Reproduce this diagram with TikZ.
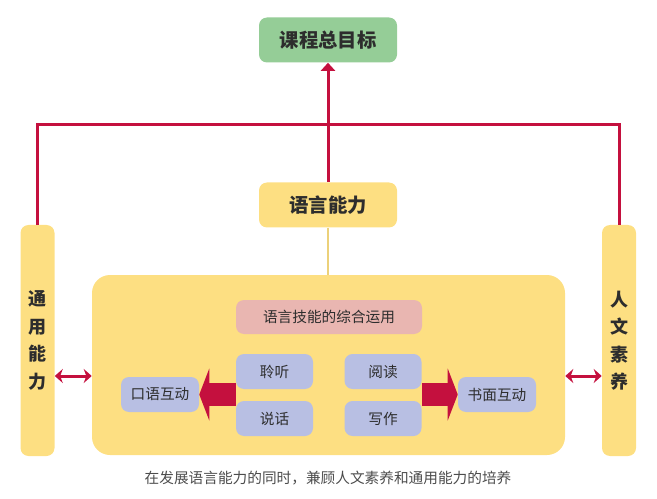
\documentclass[tikz,border=0pt]{standalone}
\usepackage{fontspec}
\setmainfont{Noto Sans CJK SC}
\usepackage{xcolor}
\usetikzlibrary{arrows.meta,positioning,calc}
\definecolor{goalgreen}{RGB}{149,205,151}
\definecolor{boxyellow}{RGB}{253,223,130}
\definecolor{linkyellow}{RGB}{236,209,122}
\definecolor{skillpink}{RGB}{233,182,177}
\definecolor{skillblue}{RGB}{184,191,227}
\definecolor{linkred}{RGB}{196,16,62}
\definecolor{textdark}{RGB}{45,45,45}

\begin{document}
\begin{tikzpicture}[x=0.75pt,y=-0.75pt,node distance=2cm,>=Stealth,
  titlebox/.style={rounded corners=6pt,minimum width=103.5pt,minimum height=33.75pt,font=\bfseries\fontsize{14.5}{16}\selectfont,text=textdark},
  sidebox/.style={fill=boxyellow,rounded corners=6pt,minimum width=25.5pt,minimum height=173.25pt,align=center,font=\bfseries\fontsize{13.5}{20.6}\selectfont,text=textdark},
  skillbox/.style={fill=skillblue,rounded corners=6pt,minimum width=57.75pt,minimum height=26.25pt,font=\fontsize{11}{13}\selectfont,text=textdark},
  redline/.style={draw=linkred,line width=2.25pt},
  bigarrow/.style={draw=linkred,line width=17.25pt,-{Triangle[length=7.5pt,width=39pt,line width=0pt]}}]
\useasboundingbox (0,0) rectangle (657,499);

\node[titlebox,fill=goalgreen] (goal) at (328,40) {课程总目标};
\node[titlebox,fill=boxyellow] (lang) at (328,205) {语言能力};
\node[sidebox] (general) at (37.5,340.5) {通\\用\\能\\力};
\node[sidebox] (humanity) at (619,340.5) {人\\文\\素\\养};
\node[fill=boxyellow,rounded corners=13.5pt,minimum width=354.75pt,minimum height=135pt] (skills) at (328.5,365) {};
\node[skillbox,fill=skillpink,minimum width=139.5pt,minimum height=25.5pt] (integrated) at (329,317) {语言技能的综合运用};
\node[skillbox] (listen) at (274.5,371.5) {聆听};
\node[skillbox,below of=listen,node distance=35.25pt] (speak) {说话};
\node[skillbox,right of=listen,node distance=81.4pt] (read) {阅读};
\node[skillbox,below of=read,node distance=35.25pt] (write) {写作};
\node[skillbox,minimum width=58.5pt] (oral) at (160,394.5) {口语互动};
\node[skillbox,minimum width=58.5pt] (written) at (497,394.5) {书面互动};
\node[font=\fontsize{11}{13}\selectfont,text=black!70] (caption) at (328,478) {在发展语言能力的同时，兼顾人文素养和通用能力的培养};

\coordinate (hub) at (328,125);
\coordinate (bridge) at (0,376);
\draw[redline] (general.north) |- (hub) -| (humanity.north);
\draw[redline,-{Triangle[length=6pt,width=10.5pt]}] (lang.north) -- (goal.south);
\draw[draw=linkyellow,line width=1.8pt] (lang.south) -- (lang.south |- skills.north);
\draw[redline,{Stealth[length=6pt,width=10.5pt]}-{Stealth[length=6pt,width=10.5pt]}] (general.east |- bridge) -- (skills.west |- bridge);
\draw[redline,{Stealth[length=6pt,width=10.5pt]}-{Stealth[length=6pt,width=10.5pt]}] (skills.east |- bridge) -- (humanity.west |- bridge);
\draw[bigarrow] (listen.west |- oral) -- (oral.east);
\draw[bigarrow] (read.east |- written) -- (written.west);
\end{tikzpicture}
\end{document}
